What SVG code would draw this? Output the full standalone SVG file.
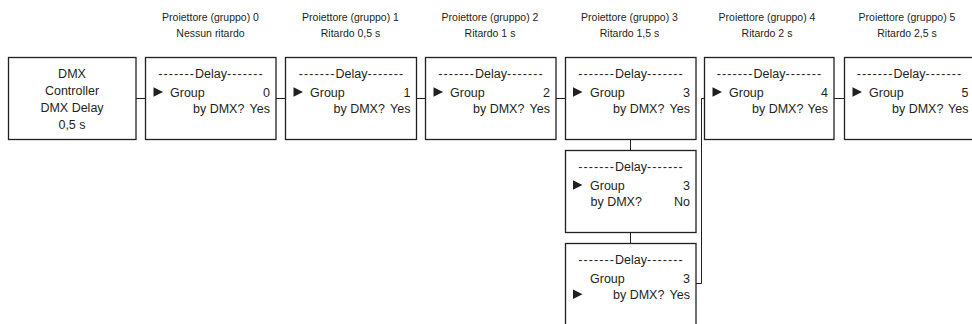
<svg xmlns="http://www.w3.org/2000/svg" width="972" height="324" viewBox="0 0 972 324">
<defs>
<style>
text{font-family:"Liberation Sans",Arial,sans-serif;fill:#231f20}
.t{font-size:10.5px;text-anchor:middle}
.b{font-size:12.5px}
.c{text-anchor:middle}
.r{text-anchor:end}
.d{letter-spacing:1.1px}
.box{fill:#fff;stroke:#231f20;stroke-width:1.3}
.con{fill:none;stroke:#231f20;stroke-width:1}
.tri{fill:#231f20}
</style>
</defs>
<rect width="972" height="324" fill="#fff"/>
<g id="connectors">
<path class="con" d="M136 98.5H145.5M276 98.5H285.5M416.5 98.5H425.5M556 98.5H565.5M834 98.5H844.5"/>
<path class="con" d="M630.5 139.5V150.5M630.5 232.5V243.5"/>
<path class="con" d="M704.5 98.5H701.5V283.5H696"/>
</g>
<g id="controller">
<rect class="box" x="8.5" y="57.5" width="127.5" height="82"/>
<text class="b c" x="72" y="78">DMX</text>
<text class="b c" x="72" y="95">Controller</text>
<text class="b c" x="72" y="112">DMX Delay</text>
<text class="b c" x="72" y="129">0,5 s</text>
</g>
<g id="proj0">
<text class="t" x="210.5" y="20.5">Proiettore (gruppo) 0</text>
<text class="t" x="210.5" y="37">Nessun ritardo</text>
<rect class="box" x="145.5" y="57.5" width="130.5" height="82"/>
<text class="b c" x="211" y="78"><tspan class="d">-------</tspan>Delay<tspan class="d">-------</tspan></text>
<polygon class="tri" points="153.5,87.3 163,92 153.5,96.7"/>
<text class="b" x="170" y="96.5">Group</text>
<text class="b r" x="270" y="96.5">0</text>
<text class="b" x="193" y="113">by DMX?</text>
<text class="b r" x="270" y="113">Yes</text>
</g>
<g id="proj1">
<text class="t" x="350.5" y="20.5">Proiettore (gruppo) 1</text>
<text class="t" x="350.5" y="37">Ritardo 0,5 s</text>
<rect class="box" x="285.5" y="57.5" width="131" height="82"/>
<text class="b c" x="351.5" y="78"><tspan class="d">-------</tspan>Delay<tspan class="d">-------</tspan></text>
<polygon class="tri" points="293.5,87.3 303,92 293.5,96.7"/>
<text class="b" x="310" y="96.5">Group</text>
<text class="b r" x="410.5" y="96.5">1</text>
<text class="b" x="333.5" y="113">by DMX?</text>
<text class="b r" x="410.5" y="113">Yes</text>
</g>
<g id="proj2">
<text class="t" x="490" y="20.5">Proiettore (gruppo) 2</text>
<text class="t" x="490" y="37">Ritardo 1 s</text>
<rect class="box" x="425.5" y="57.5" width="130.5" height="82"/>
<text class="b c" x="491" y="78"><tspan class="d">-------</tspan>Delay<tspan class="d">-------</tspan></text>
<polygon class="tri" points="433.5,87.3 443,92 433.5,96.7"/>
<text class="b" x="450" y="96.5">Group</text>
<text class="b r" x="550" y="96.5">2</text>
<text class="b" x="473" y="113">by DMX?</text>
<text class="b r" x="550" y="113">Yes</text>
</g>
<g id="proj3">
<text class="t" x="629.5" y="20.5">Proiettore (gruppo) 3</text>
<text class="t" x="629.5" y="37">Ritardo 1,5 s</text>
<rect class="box" x="565.5" y="57.5" width="130.5" height="82"/>
<text class="b c" x="631" y="78"><tspan class="d">-------</tspan>Delay<tspan class="d">-------</tspan></text>
<polygon class="tri" points="573,87.3 582.5,92 573,96.7"/>
<text class="b" x="590" y="96.5">Group</text>
<text class="b r" x="690" y="96.5">3</text>
<text class="b" x="613" y="113">by DMX?</text>
<text class="b r" x="690" y="113">Yes</text>
</g>
<g id="proj3-no">
<rect class="box" x="565.5" y="150.5" width="130.5" height="82"/>
<text class="b c" x="631" y="171"><tspan class="d">-------</tspan>Delay<tspan class="d">-------</tspan></text>
<polygon class="tri" points="573,180.3 582.5,185 573,189.7"/>
<text class="b" x="590" y="189.5">Group</text>
<text class="b r" x="690" y="189.5">3</text>
<text class="b" x="590.5" y="206">by DMX?</text>
<text class="b r" x="690" y="206">No</text>
</g>
<g id="proj3-yes">
<rect class="box" x="565.5" y="243.5" width="130.5" height="90"/>
<text class="b c" x="631" y="264"><tspan class="d">-------</tspan>Delay<tspan class="d">-------</tspan></text>
<text class="b" x="590" y="282.5">Group</text>
<text class="b r" x="690" y="282.5">3</text>
<polygon class="tri" points="573,289.5 582.5,294.2 573,299"/>
<text class="b" x="613" y="299">by DMX?</text>
<text class="b r" x="690" y="299">Yes</text>
</g>
<g id="proj4">
<text class="t" x="767" y="20.5">Proiettore (gruppo) 4</text>
<text class="t" x="767" y="37">Ritardo 2 s</text>
<rect class="box" x="704.5" y="57.5" width="129.5" height="82"/>
<text class="b c" x="769.5" y="78"><tspan class="d">-------</tspan>Delay<tspan class="d">-------</tspan></text>
<polygon class="tri" points="712.5,87.3 722,92 712.5,96.7"/>
<text class="b" x="729" y="96.5">Group</text>
<text class="b r" x="828" y="96.5">4</text>
<text class="b" x="752" y="113">by DMX?</text>
<text class="b r" x="828" y="113">Yes</text>
</g>
<g id="proj5">
<text class="t" x="907" y="20.5">Proiettore (gruppo) 5</text>
<text class="t" x="907" y="37">Ritardo 2,5 s</text>
<rect class="box" x="844.5" y="57.5" width="130" height="82"/>
<text class="b c" x="909.5" y="78"><tspan class="d">-------</tspan>Delay<tspan class="d">-------</tspan></text>
<polygon class="tri" points="852.5,87.3 862,92 852.5,96.7"/>
<text class="b" x="869" y="96.5">Group</text>
<text class="b r" x="968.5" y="96.5">5</text>
<text class="b" x="892" y="113">by DMX?</text>
<text class="b r" x="968.5" y="113">Yes</text>
</g>
</svg>
